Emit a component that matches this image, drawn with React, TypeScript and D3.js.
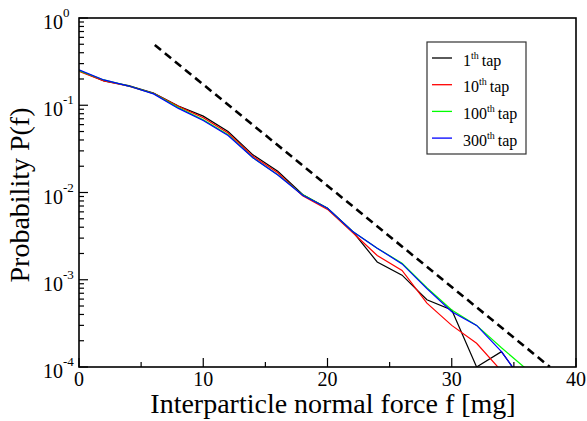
import React from "react";
import * as d3 from "d3";

// force values (mg), one sample every 2 mg
const forces = [0, 2, 4, 6, 8, 10, 12, 14, 16, 18, 20, 22, 24, 26, 28, 30, 32, 34, 36];

const tap1 = [0.25, 0.19, 0.168, 0.138, 0.098, 0.075, 0.05, 0.027, 0.0175, 0.0095, 0.0066, 0.0036, 0.0016, 0.00113, 0.00059, 0.00045, 0.0001, 0.00015, 0.00006];
const tap10 = [0.245, 0.19, 0.165, 0.137, 0.097, 0.072, 0.048, 0.026, 0.0168, 0.0092, 0.0064, 0.0035, 0.0019, 0.00128, 0.00054, 0.0003, 0.000187, 0.00009];
const tap100 = [0.25, 0.195, 0.166, 0.136, 0.094, 0.068, 0.046, 0.025, 0.016, 0.0094, 0.0066, 0.0036, 0.0023, 0.00155, 0.00081, 0.00045, 0.0003, 0.000166, 0.000095];
const tap300 = [0.255, 0.195, 0.166, 0.135, 0.092, 0.067, 0.045, 0.025, 0.0159, 0.0093, 0.0066, 0.0036, 0.0023, 0.00152, 0.00079, 0.00043, 0.0003, 0.00015, 0.00006];

// dashed guide (exponential decay)
const guideF = [6.1, 37.9];
const guideP = [0.49, 0.0001];

const series = [
  { name: "1", sup: "th", values: tap1, color: "#000000" },
  { name: "10", sup: "th", values: tap10, color: "#ff0000" },
  { name: "100", sup: "th", values: tap100, color: "#00ff00" },
  { name: "300", sup: "th", values: tap300, color: "#0000ff" },
];

const xTicks = [0, 10, 20, 30, 40];
const xMinorTicks = [5, 15, 25, 35];
const yExponents = [0, -1, -2, -3, -4];

const W = 587;
const H = 421;
const m = { top: 18, right: 11, bottom: 54, left: 79 };
const FONT = "'Liberation Serif', 'Times New Roman', serif";

export default function App() {
  const iW = W - m.left - m.right;
  const iH = H - m.top - m.bottom;

  const x = d3.scaleLinear().domain([0, 40]).range([0, iW]);
  const y = d3.scaleLog().domain([1e-4, 1]).range([iH, 0]);

  const line = d3
    .line<[number, number]>()
    .x((d) => x(d[0]))
    .y((d) => y(d[1]));

  const yMinor: number[] = [];
  for (let e = -4; e < 0; e++) {
    for (let k = 2; k <= 9; k++) yMinor.push(k * Math.pow(10, e));
  }

  React.useEffect(() => {
    document.body.style.margin = "0";
  }, []);

  return (
    <svg width={W} height={H} style={{ display: "block", background: "#fff" }} fontFamily={FONT}>
      <defs>
        <clipPath id="plot-clip">
          <rect x={0} y={0} width={iW} height={iH} />
        </clipPath>
      </defs>
      <g transform={`translate(${m.left},${m.top})`}>
        {/* curves */}
        <g clipPath="url(#plot-clip)">
          {series.map((s) => (
            <path
              key={s.name}
              d={line(s.values.map((v, i) => [forces[i], v] as [number, number])) || ""}
              fill="none"
              stroke={s.color}
              strokeWidth={1.2}
            />
          ))}
          <path
            d={line(guideF.map((f, i) => [f, guideP[i]] as [number, number])) || ""}
            fill="none"
            stroke="#000"
            strokeWidth={2.6}
            strokeDasharray="8 5"
          />
        </g>

        {/* frame */}
        <rect x={0} y={0} width={iW} height={iH} fill="none" stroke="#000" strokeWidth={1.6} />

        {/* x ticks */}
        {xTicks.map((t) => (
          <g key={t} transform={`translate(${x(t)},${iH})`}>
            <line y1={0} y2={-9} stroke="#000" strokeWidth={1.2} />
            <text y={19} textAnchor="middle" fontSize={20}>
              {t}
            </text>
          </g>
        ))}
        {xMinorTicks.map((t) => (
          <line key={t} x1={x(t)} x2={x(t)} y1={iH} y2={iH - 5} stroke="#000" strokeWidth={1.2} />
        ))}

        {/* y ticks */}
        {yExponents.map((e) => (
          <g key={e} transform={`translate(0,${y(Math.pow(10, e))})`}>
            <line x1={0} x2={9} stroke="#000" strokeWidth={1.2} />
            <text x={-16} y={11} textAnchor="end" fontSize={20}>
              10
            </text>
            <text x={-16} y={-1} fontSize={13}>
              {String(e)}
            </text>
          </g>
        ))}
        {yMinor.map((v) => (
          <line key={v} x1={0} x2={5} y1={y(v)} y2={y(v)} stroke="#000" strokeWidth={1.2} />
        ))}

        {/* axis titles */}
        <text x={333 - m.left} y={iH + 46} textAnchor="middle" fontSize={28}>
          Interparticle normal force f [mg]
        </text>
        <text
          transform={`translate(${29 - m.left},${195 - m.top}) rotate(-90)`}
          textAnchor="middle"
          fontSize={28}
        >
          Probability P(f)
        </text>

        {/* legend */}
        <g transform={`translate(${427 - m.left},${42 - m.top})`}>
          <rect x={0} y={0} width={99} height={112} fill="#fff" stroke="#333" strokeWidth={1.2} />
          {series.map((s, i) => (
            <g key={s.name} transform={`translate(0,${16 + i * 26.7})`}>
              <line x1={5} x2={25} stroke={s.color} strokeWidth={1.3} />
              <text x={36} y={7.5} fontSize={16}>
                <tspan>{s.name}</tspan>
                <tspan dy={-7} fontSize={10}>
                  {s.sup}
                </tspan>
                <tspan dy={7} dx={3}>
                  tap
                </tspan>
              </text>
            </g>
          ))}
        </g>
      </g>
    </svg>
  );
}
